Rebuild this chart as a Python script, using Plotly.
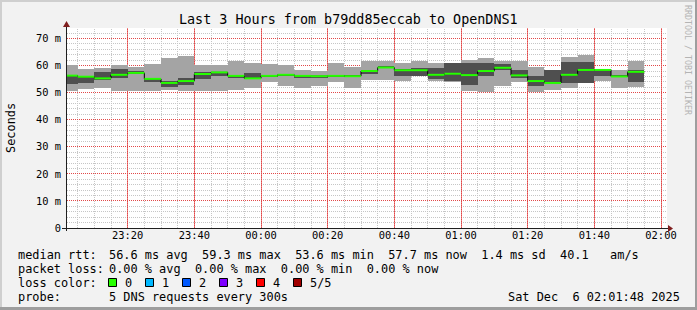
import math
import plotly.graph_objects as go
import pandas as pd

# ---- data (5-minute SmokePing bins, values in ms) ----
bin_start = pd.date_range("2025-12-05 23:00:00", periods=35, freq="5min")
ping_max = [60.1, 58.6, 59.3, 60.1, 59.4, 60.5, 62.8, 63.5, 60.1, 60.1, 61.6, 61.0, 60.5, 60.3, 58.3, 57.9, 61.0, 59.5,
            61.6, 61.8, 60.9, 61.8, 60.8, 61.0, 62.2, 62.8, 61.6, 61.6, 59.5, 58.3, 63.2, 63.8, 58.8, 58.3, 61.6]
ping_hi = [56.3, 55.9, 57.5, 58.6, 57.9, 55.4, 54.2, 55.6, 57.8, 57.8, 56.4, 57.4, 56.5, 56.8, 56.4, 56.2, 56.4, 56.3,
           58.3, 59.8, 58.9, 59.3, 59.2, 60.8, 60.9, 60.9, 60.6, 58.3, 56.0, 58.3, 61.4, 61.4, 58.8, 56.3, 58.4]
median = [56.3, 55.9, 55.3, 56.6, 57.3, 55.1, 53.6, 54.3, 56.9, 57.5, 56.2, 55.3, 56.2, 56.6, 56.2, 56.1, 56.2, 56.1,
          58.0, 59.3, 58.3, 58.3, 56.6, 57.0, 56.5, 58.0, 59.2, 56.4, 54.3, 53.6, 56.6, 58.4, 58.4, 56.0, 57.7]
ping_lo = [53.1, 53.6, 54.7, 55.6, 56.8, 54.1, 52.1, 53.0, 55.0, 56.1, 55.6, 55.2, 55.9, 56.4, 55.7, 55.5, 56.0, 55.9,
           57.0, 59.0, 56.0, 56.0, 55.2, 54.4, 53.0, 56.0, 58.4, 55.3, 52.4, 53.4, 53.4, 53.6, 56.0, 55.8, 53.9]
ping_min = [50.8, 51.2, 51.6, 50.8, 50.8, 50.8, 51.0, 50.8, 50.8, 50.8, 51.1, 51.7, 54.1, 52.5, 51.7, 52.5, 54.1, 51.8,
            54.6, 54.6, 54.4, 56.0, 54.4, 54.0, 50.7, 50.4, 52.4, 53.9, 50.4, 50.9, 51.6, 53.4, 54.4, 51.9, 52.1]

y_tick_vals = [0, 10, 20, 30, 40, 50, 60, 70]
y_tick_text = ["0", "10 m", "20 m", "30 m", "40 m", "50 m", "60 m", "70 m"]

title = "Last 3 Hours from b79dd85eccab to OpenDNS1"
stats_rtt = "56.6 ms avg  59.3 ms max  53.6 ms min  57.7 ms now  1.4 ms sd  40.1   am/s"
stats_loss = "0.00 % avg  0.00 % max  0.00 % min  0.00 % now"
probe_text = "5 DNS requests every 300s"
stamp = "Sat Dec  6 02:01:48 2025"
loss_labels = ["0", "1", "2", "3", "4", "5/5"]
loss_colors = ["#26ff00", "#00b8ff", "#0059ff", "#7e00ff", "#ff0000", "#a10000"]

# ---- geometry ----
W, H = 697, 310
L, R, T, B = 67, 667, 28, 228
YMAX = 73.9
MONO = "DejaVu Sans Mono"
BIN_MS = 300000
X0, X1 = pd.Timestamp("2025-12-05 23:01:48"), pd.Timestamp("2025-12-06 02:01:48")
SPAN = (X1 - X0).total_seconds()

def px(x):
    return (x - L) / (R - L)

def py(y):
    return (B - y) / (B - T)

def nb(s):
    return s.replace(" ", "\u00a0")

centers = bin_start + pd.Timedelta(seconds=150)
bin_end = bin_start + pd.Timedelta(minutes=5)

fig = go.Figure()
fig.add_trace(go.Bar(x=centers, base=ping_min, y=[a - b for a, b in zip(ping_max, ping_min)],
                     width=BIN_MS, marker=dict(color="#a4a4a4", line=dict(width=0)), hoverinfo="skip"))
fig.add_trace(go.Bar(x=centers, base=ping_lo, y=[a - b for a, b in zip(ping_hi, ping_lo)],
                     width=BIN_MS, marker=dict(color="#4f4f4f", line=dict(width=0)), hoverinfo="skip"))
step_x = list(bin_start) + [bin_end[-1]]
step_y = list(median) + [median[-1]]
fig.add_trace(go.Scatter(x=step_x, y=step_y, mode="lines", line=dict(color="#000000", width=1, shape="hv"),
                         hoverinfo="skip"))
gx, gy = [], []
for s, e, m in zip(bin_start, bin_end, median):
    gx += [s, e, None]
    gy += [m, m, None]
fig.add_trace(go.Scatter(x=gx, y=gy, mode="lines", line=dict(color=loss_colors[0], width=2),
                         connectgaps=False, hoverinfo="skip"))

grid_red = "#e24848"
grid_grey = "#c6c6c6"

x_major = [pd.Timestamp(t) for t in pd.date_range("2025-12-05 23:20:00", "2025-12-06 02:00:00", freq="20min")]
x_minor = [pd.Timestamp(t) for t in pd.date_range("2025-12-05 23:05:00", "2025-12-06 02:00:00", freq="5min")
           if t.minute % 20 != 0]
y_minor = [v for v in range(2, 74, 2) if v % 10 != 0]

fig.update_layout(
    width=W, height=H, autosize=False,
    margin=dict(l=L, r=W - R, t=T, b=H - B, pad=0),
    paper_bgcolor="#f2f2f2", plot_bgcolor="#ffffff",
    barmode="overlay", bargap=0, showlegend=False,
    font=dict(family=MONO, color="#000000"),
    xaxis=dict(type="date", range=[X0, X1],
               tickmode="array", tickvals=x_major, tickformat="%H:%M",
               tickfont=dict(family=MONO, size=10.4, color="#000000"),
               ticks="", showgrid=True, gridcolor="rgba(226,72,72,0.7)", griddash="1px,1px", gridwidth=1,
               showline=False, zeroline=False, fixedrange=True),
    yaxis=dict(range=[0, YMAX], tickmode="array", tickvals=y_tick_vals, ticktext=y_tick_text,
               tickfont=dict(family=MONO, size=10.4, color="#000000"),
               ticks="outside", ticklen=3, tickcolor="rgba(0,0,0,0)",
               showgrid=True, gridcolor="rgba(226,72,72,0.7)", griddash="1px,1px", gridwidth=1,
               showline=False, zeroline=False, fixedrange=True),
)

shapes = []

def xcol(t):
    pos = L + (t - X0).total_seconds() / SPAN * (R - L)
    return (math.floor(pos) + 0.5 - L) / (R - L)

def yrow(v):
    pos = B - v / YMAX * (B - T)
    return (B - (math.floor(pos) + 0.5)) / (B - T)

def gline(x0, x1, y0, y1, col):
    shapes.append(dict(type="line", xref="x domain", yref="y domain", x0=x0, x1=x1, y0=y0, y1=y1,
                       line=dict(color=col, width=1, dash="1px,1px"), layer="below"))

for t in x_minor:
    gline(xcol(t), xcol(t), 0, 1, grid_grey)
for v in y_minor:
    gline(0, 1, yrow(v), yrow(v), grid_grey)
for t in x_major:
    gline(xcol(t), xcol(t), 0, 1, grid_red)
for v in y_tick_vals[1:]:
    gline(0, 1, yrow(v), yrow(v), grid_red)

# frame shading
shapes.append(dict(type="rect", xref="paper", yref="paper", x0=px(0), x1=px(W), y0=py(0), y1=py(2),
                   fillcolor="#cfcfcf", line=dict(width=0), layer="below"))
shapes.append(dict(type="rect", xref="paper", yref="paper", x0=px(0), x1=px(2), y0=py(0), y1=py(H),
                   fillcolor="#cfcfcf", line=dict(width=0), layer="below"))
shapes.append(dict(type="rect", xref="paper", yref="paper", x0=px(0), x1=px(W), y0=py(H - 3), y1=py(H),
                   fillcolor="#9e9e9e", line=dict(width=0), layer="below"))
shapes.append(dict(type="rect", xref="paper", yref="paper", x0=px(W - 2), x1=px(W), y0=py(0), y1=py(H),
                   fillcolor="#9e9e9e", line=dict(width=0), layer="below"))
# axes
shapes.append(dict(type="line", xref="paper", yref="paper", x0=px(62), x1=px(669), y0=py(228.5), y1=py(228.5),
                   line=dict(color="#1f1f1f", width=1), layer="above"))
shapes.append(dict(type="line", xref="paper", yref="paper", x0=px(66.5), x1=px(66.5), y0=py(231), y1=py(24),
                   line=dict(color="#1f1f1f", width=1), layer="above"))
shapes.append(dict(type="path", xref="paper", yref="paper",
                   path=f"M {px(668)} {py(225)} L {px(673)} {py(228.5)} L {px(668)} {py(232)} Z",
                   fillcolor="#801f1f", line=dict(width=0), layer="above"))
shapes.append(dict(type="path", xref="paper", yref="paper",
                   path=f"M {px(63)} {py(27)} L {px(66.5)} {py(21)} L {px(70)} {py(27)} Z",
                   fillcolor="#801f1f", line=dict(width=0), layer="above"))
# loss colour boxes
box_x = [108.5, 145.5, 182.5, 219.5, 256.5, 293.5]
for bx, col in zip(box_x, loss_colors):
    shapes.append(dict(type="rect", xref="paper", yref="paper", x0=px(bx), x1=px(bx + 8), y0=py(286.5), y1=py(278.5),
                       fillcolor=col, line=dict(color="#000000", width=1), layer="above"))
fig.update_layout(shapes=shapes)

ann = []
def text(x, y, s, size=11.9, anchor="left", color="#000000", angle=0):
    ann.append(dict(x=px(x), y=py(y), xref="paper", yref="paper", text=nb(s), showarrow=False,
                    xanchor=anchor, yanchor="middle", textangle=angle,
                    font=dict(family=MONO, size=size, color=color)))

text(348, 19, title, size=13.4, anchor="center")
text(11, 128, "Seconds", size=11.9, anchor="center", angle=-90)
text(688, 60, "RRDTOOL / TOBI OETIKER", size=8.3, anchor="center", color="#b4b4b4", angle=90)
text(16, 254.5, "median rtt:")
text(106.5, 254.5, stats_rtt)
text(16, 268.5, "packet loss:")
text(106.5, 268.5, stats_loss)
text(16, 282.5, "loss color:")
for bx, lab in zip(box_x, loss_labels):
    text(bx + 14, 282.5, lab)
text(16, 296.5, "probe:")
text(106.5, 296.5, probe_text)
text(682, 296.5, stamp, anchor="right")
fig.update_layout(annotations=ann)

fig.write_html("out.html")
